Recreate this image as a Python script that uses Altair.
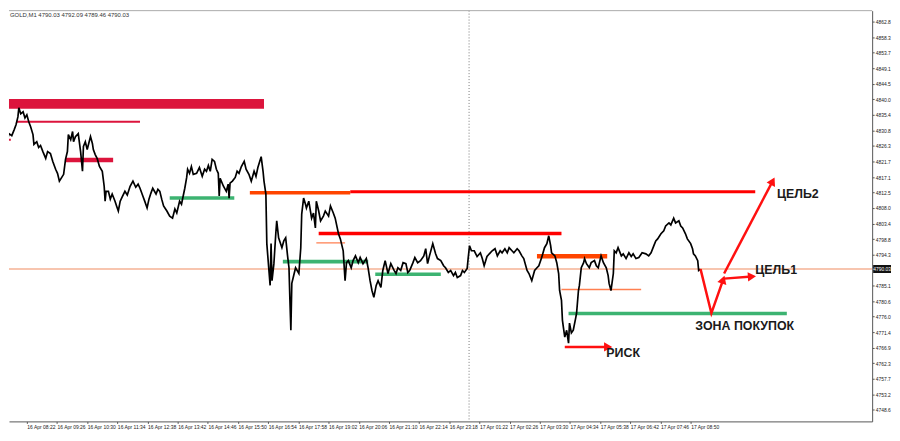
import altair as alt
import pandas as pd

# ---------------- data ----------------
# price path: M1 bar index (counted from 16 Apr 07:18) and price
bars = [9,16,20,26,32,37,41,45,47,51,
        56,60,64,68,72,77,79,85,89,93,
        98,104,108,114,119,125,129,133,138,142,
        146,150,152,157,161,163,167,173,178,182,
        184,188,192,199,203,205,209,213,218,224,
        228,230,232,237,241,245,251,255,258,262,
        266,272,277,283,289,295,300,304,310,314,
        319,323,327,331,338,342,346,350,354,361,
        367,373,378,382,388,392,399,403,405,409,
        413,417,424,430,436,441,445,449,453,457,
        462,466,470,472,474,481,487,491,493,495,
        500,506,510,514,519,525,529,535,540,546,
        550,554,561,565,567,571,573,577,580,582,
        584,588,592,594,598,605,609,613,617,620,
        622,624,626,630,634,641,645,647,651,655,
        657,662,668,672,676,678,683,687,693,697,
        704,708,714,718,725,729,735,739,742,746,
        752,756,761,767,771,777,784,788,792,796,
        800,805,809,815,819,824,830,836,843,847,
        851,857,862,868,872,876,883,887,893,899,
        906,910,914,918,925,931,935,942,948,952,
        958,963,969,973,977,984,988,992,998,1000,
        1003,1007,1013,1019,1026,1030,1034,1040,1045,1051,
        1057,1062,1068,1072,1078,1083,1087,1093,1097,1104,
        1108,1114,1118,1125,1129,1135,1141,1146,1150,1156,
        1162,1167,1171,1175,1177,1184,1188,1192,1194,1198,
        1200,1202,1205,1209,1213,1215,1219,1223,1228,1230,
        1234,1236,1240,1245,1247,1251,1257,1261,1268,1272,
        1276,1282,1287,1293,1297,1299,1303,1308,1310,1314,
        1318,1325,1329,1335,1341,1346,1350,1356,1362,1369,
        1377,1383,1388,1394,1398,1402,1409,1415,1419,1426,
        1430,1436,1440,1447,1451,1455,1461,1465,1472,1476,
        1478,1482,1487,1489,1493]
prices = [4825.2,4827.5,4826.1,4829.9,4829.3,4831.0,4832.5,4834.8,4837.5,4835.7,
          4836.3,4834.5,4835.4,4833.4,4831.9,4829.6,4826.7,4827.5,4825.8,4826.4,
          4824.6,4822.6,4824.6,4824.0,4821.7,4819.4,4818.2,4815.9,4817.0,4817.9,
          4822.3,4824.6,4829.6,4828.1,4830.5,4827.5,4829.0,4829.9,4824.6,4818.8,
          4826.1,4827.5,4825.2,4829.0,4827.0,4825.2,4823.7,4822.6,4820.2,4818.8,
          4814.4,4810.0,4812.9,4812.9,4810.6,4812.1,4810.0,4808.3,4807.1,4810.0,
          4811.2,4812.9,4811.8,4814.4,4815.9,4814.1,4815.0,4813.8,4811.5,4810.0,
          4808.0,4810.6,4812.3,4813.8,4812.1,4813.5,4812.9,4810.6,4808.6,4807.1,
          4805.6,4805.0,4807.7,4806.5,4810.0,4809.1,4813.8,4817.0,4819.4,4818.2,
          4820.2,4817.9,4818.2,4819.9,4817.3,4819.4,4818.8,4820.5,4818.8,4822.3,
          4821.7,4819.4,4818.2,4811.5,4816.7,4814.4,4812.9,4815.0,4810.9,4815.3,
          4815.9,4817.0,4818.8,4818.2,4820.2,4821.7,4819.4,4817.9,4815.9,4818.8,
          4817.3,4819.9,4823.1,4818.8,4815.9,4812.1,4797.5,4790.4,4785.2,4797.5,
          4786.6,4791.6,4800.4,4804.2,4799.2,4796.3,4798.3,4799.2,4793.9,4790.4,
          4780.8,4772.0,4785.8,4788.1,4790.4,4788.7,4796.3,4806.2,4810.9,4809.1,
          4808.0,4810.0,4805.0,4806.5,4802.1,4810.0,4807.1,4804.2,4805.6,4807.1,
          4805.6,4808.6,4806.5,4805.0,4800.4,4798.9,4795.4,4786.6,4791.9,4792.5,
          4790.4,4792.5,4793.9,4791.9,4793.4,4791.6,4793.1,4790.2,4786.6,4783.7,
          4781.7,4785.2,4786.6,4784.6,4789.6,4792.5,4788.7,4791.6,4789.6,4788.7,
          4790.4,4789.6,4791.9,4791.6,4789.0,4789.6,4791.9,4793.4,4791.9,4792.5,
          4793.9,4796.0,4791.6,4793.9,4797.5,4794.5,4793.1,4792.5,4791.0,4790.4,
          4789.0,4789.6,4788.1,4789.0,4787.5,4788.1,4789.6,4789.0,4790.2,4793.1,
          4796.9,4795.4,4795.4,4793.7,4794.8,4793.1,4791.0,4793.7,4794.5,4795.4,
          4796.0,4793.9,4795.4,4794.8,4796.0,4794.8,4796.3,4795.4,4794.8,4796.0,
          4795.4,4793.9,4793.1,4789.6,4788.7,4786.6,4789.6,4790.4,4791.0,4793.4,
          4796.3,4797.5,4799.8,4796.9,4794.8,4793.9,4791.9,4788.7,4783.7,4780.8,
          4775.0,4772.9,4770.0,4772.0,4768.2,4774.1,4771.2,4772.0,4775.5,4777.0,
          4783.7,4785.2,4790.4,4791.9,4793.1,4791.6,4790.4,4791.9,4792.5,4791.0,
          4790.4,4793.9,4791.9,4790.4,4788.1,4785.8,4783.7,4788.7,4795.4,4794.8,
          4796.3,4793.9,4794.5,4793.1,4794.8,4793.7,4794.5,4793.1,4793.4,4794.8,
          4794.5,4793.9,4794.8,4796.9,4798.3,4798.9,4800.4,4801.3,4802.7,4803.6,
          4803.0,4805.0,4803.6,4804.2,4802.7,4802.1,4800.4,4798.9,4797.5,4796.0,
          4794.5,4793.9,4792.5,4789.6,4790.0]
assert len(bars) == len(prices), (len(bars), len(prices))

x_tick_bars = [64, 128, 192, 256, 320, 384, 448, 512, 576, 640, 704, 768,
               832, 896, 960, 1024, 1088, 1152, 1216, 1280, 1344, 1408, 1472]
x_tick_labels = ["16 Apr 08:22", "16 Apr 09:26", "16 Apr 10:30", "16 Apr 11:34",
                 "16 Apr 12:38", "16 Apr 13:42", "16 Apr 14:46", "16 Apr 15:50",
                 "16 Apr 16:54", "16 Apr 17:58", "16 Apr 19:02", "16 Apr 20:06",
                 "16 Apr 21:10", "16 Apr 22:14", "16 Apr 23:18", "17 Apr 01:22",
                 "17 Apr 02:26", "17 Apr 03:30", "17 Apr 04:34", "17 Apr 05:38",
                 "17 Apr 06:42", "17 Apr 07:46", "17 Apr 08:50"]
y_tick_values = [4867.4, 4862.8, 4858.3, 4853.7, 4849.1, 4844.5, 4840.0, 4835.4,
                 4830.8, 4826.3, 4821.7, 4817.1, 4812.5, 4808.0, 4803.4, 4798.8,
                 4794.3, 4785.1, 4780.6, 4776.0, 4771.4, 4766.9, 4762.3, 4757.7,
                 4753.2, 4748.6, 4744.0]

# horizontal level segments
level_start = [41, 9, 146, 367, 537, 750, 683, 678, 607, 803, 1146, 1198, 1213]
level_end = [304, 30, 247, 504, 750, 1609, 1198, 739, 788, 942, 1295, 1367, 1676]
level_price = [4833.4, 4828.1, 4822.1, 4810.9, 4812.5, 4812.8, 4800.5, 4797.7,
               4792.2, 4788.5, 4793.8, 4784.0, 4776.9]
level_color = ["#DC143C", "#DC143C", "#DC143C", "#3CB371", "#FF4500", "#FF0000",
               "#FF0000", "#FF7F50", "#3CB371", "#3CB371", "#FF4500", "#FF7F50",
               "#3CB371"]
level_width = [2, 2, 4.5, 3.5, 3.5, 3, 3.5, 1.2, 4, 3.5, 4.5, 1.5, 3.5]

# thick resistance band
band_start = [9]
band_end = [567]
band_low = [4837.2]
band_high = [4840.1]

# forecast arrows
arrow_id = ["a", "a", "a", "b", "b", "c", "c", "d", "d"]
arrow_order = [0, 1, 2, 0, 1, 0, 1, 0, 1]
arrow_bar = [1493, 1516, 1541, 1543, 1602, 1543, 1646, 1205, 1297]
arrow_price = [4790.0, 4777.0, 4786.9, 4787.2, 4787.8, 4788.7, 4815.9, 4767.1, 4767.1]
head_bar = [1541, 1602, 1646, 1297]
head_price = [4786.9, 4787.8, 4815.9, 4767.1]
head_angle = [19, 86, 27, 90]

label_text = ["ЦЕЛЬ2", "ЦЕЛЬ1", "ЗОНА ПОКУПОК", "РИСК"]
label_bar = [1655, 1609, 1482, 1293]
label_price = [4812.1, 4789.6, 4773.2, 4765.3]

bid_price = [4790.03]
day_sep_bar = [1002]
title_text = "GOLD,M1  4790.03 4792.09 4789.46 4790.03"

# ---------------- chart ----------------
W, H = 870, 414
x_scale = alt.Scale(domain=[26.1, 1857.0], nice=False, zero=False)
y_scale = alt.Scale(domain=[4745.17, 4866.08], nice=False, zero=False)

labels_js = "[" + ",".join("'" + s + "'" for s in x_tick_labels) + "]"
bars_js = "[" + ",".join(str(b) for b in x_tick_bars) + "]"
x_axis = alt.Axis(orient="bottom", values=x_tick_bars,
                  labelExpr=labels_js + "[indexof(" + bars_js + ", datum.value)]",
                  labelAlign="left", labelBaseline="top", tickSize=2, labelPadding=1,
                  labelFontSize=5, labelFont="Liberation Sans", labelColor="#222",
                  labelOverlap=False, labelFlush=False, grid=False, title=None,
                  domainColor="#555", tickColor="#555")
y_axis = alt.Axis(orient="right", values=y_tick_values, format=".1f", tickSize=2,
                  labelPadding=1, labelFontSize=5, labelFont="Liberation Sans",
                  labelColor="#222", labelOverlap=False, labelFlush=False, grid=False,
                  title=None, domainColor="#555", tickColor="#555")

def X(field):
    return alt.X(field, type="quantitative", scale=x_scale, axis=x_axis)

def Y(field):
    return alt.Y(field, type="quantitative", scale=y_scale, axis=y_axis)

price_df = pd.DataFrame({"t": bars, "p": prices})
level_df = pd.DataFrame({"s": level_start, "e": level_end, "p": level_price,
                         "c": level_color, "w": level_width})
band_df = pd.DataFrame({"s": band_start, "e": band_end, "lo": band_low, "hi": band_high})
arrow_df = pd.DataFrame({"id": arrow_id, "o": arrow_order, "t": arrow_bar, "p": arrow_price})
head_df = pd.DataFrame({"t": head_bar, "p": head_price, "a": head_angle})
label_df = pd.DataFrame({"txt": label_text, "t": label_bar, "p": label_price})
bid_df = pd.DataFrame({"p": bid_price, "lbl": ["%.2f" % v for v in bid_price]})
sep_df = pd.DataFrame({"t": day_sep_bar})
one_df = pd.DataFrame({"title": [title_text]})

bid_line = alt.Chart(bid_df).mark_rule(color="#F08A5D", strokeWidth=1).encode(y=Y("p"))
sep_line = alt.Chart(sep_df).mark_rule(color="#777", strokeWidth=1, strokeDash=[1, 2]).encode(x=X("t"))
top_line = alt.Chart(one_df).mark_rule(color="#aaa", strokeWidth=1).encode(
    x=alt.value(0), x2=alt.value(W), y=alt.value(0))

band = alt.Chart(band_df).mark_rect(color="#DC143C", clip=True).encode(
    x=X("s"), x2="e", y=Y("lo"), y2="hi")
levels = alt.Chart(level_df).mark_rule(clip=True, strokeCap="butt").encode(
    x=X("s"), x2="e", y=Y("p"),
    color=alt.Color("c:N", scale=None),
    strokeWidth=alt.StrokeWidth("w:Q", scale=None))

price_line = alt.Chart(price_df).mark_line(color="#000", strokeWidth=1.7, clip=True,
                                           strokeJoin="miter").encode(
    x=X("t"), y=Y("p"), order="t:Q")

arrows = alt.Chart(arrow_df).mark_line(color="#FF1010", strokeWidth=2.5, clip=True).encode(
    x=X("t"), y=Y("p"), detail="id:N", order="o:Q")
heads = alt.Chart(head_df).mark_point(shape="triangle-up", filled=True, color="#FF1010",
                                      opacity=1, size=90, clip=True).encode(
    x=X("t"), y=Y("p"), angle=alt.Angle("a:Q", scale=None))

labels = alt.Chart(label_df).mark_text(font="Liberation Sans", fontWeight="bold",
                                       fontSize=12.5, color="#1a1a1a", align="left",
                                       baseline="middle").encode(
    x=X("t"), y=Y("p"), text="txt:N")

title = alt.Chart(one_df).mark_text(font="Liberation Sans", fontSize=6, color="#333",
                                    align="left", baseline="top").encode(
    x=alt.value(1), y=alt.value(1), text="title:N")

bid_box = alt.Chart(bid_df).mark_point(shape="M-1,-0.45L1,-0.45L1,0.45L-1,0.45Z",
                                       filled=True, color="#111", opacity=1, size=324,
                                       clip=False).encode(x=alt.value(W + 10), y=Y("p"))
bid_text = alt.Chart(bid_df).mark_text(font="Liberation Sans", fontSize=5, color="#fff",
                                       align="center", baseline="middle").encode(
    x=alt.value(W + 10), y=Y("p"), text="lbl:N")

chart = alt.layer(
    bid_line, sep_line, top_line, band, levels, price_line, arrows, heads,
    labels, title, bid_box, bid_text
).properties(
    width=W, height=H, padding={"left": 0, "top": 0, "right": 0, "bottom": 0},
    background="#ffffff"
).configure_view(stroke=None)

chart.save("out.html", embed_options={"renderer": "svg", "actions": False})
